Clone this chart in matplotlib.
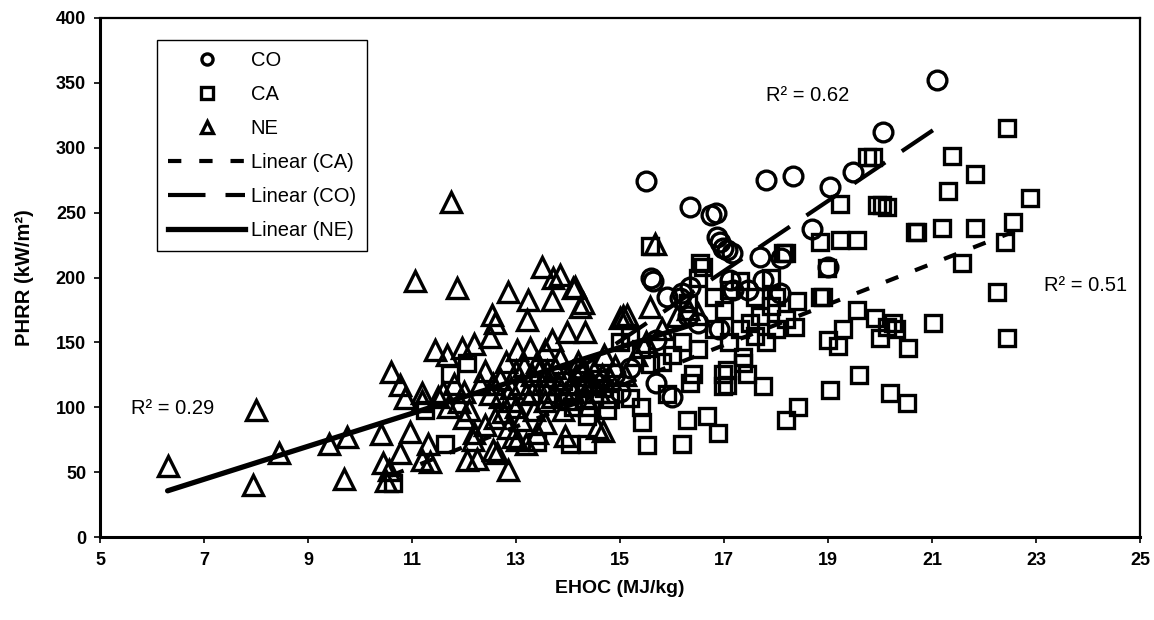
import matplotlib
matplotlib.use("Agg")
import matplotlib.pyplot as plt
from matplotlib.lines import Line2D

plt.rcParams['font.family'] = ['Liberation Sans', 'DejaVu Sans']

# ---------------- data ----------------
co_x = [14.2, 14.9, 15.2, 15.5, 15.6, 15.63, 15.7, 15.7, 16.0, 15.9, 16.15, 16.2, 16.35, 16.35,
        16.75, 16.85, 16.87, 16.93, 16.98, 17.06, 16.9, 17.15, 17.12, 17.17, 17.46, 17.7, 17.75,
        17.8, 18.1, 18.08, 18.33, 18.7, 19.0, 19.04, 19.48, 20.06, 21.1, 16.3, 16.5, 14.6, 15.0]
co_y = [130, 126, 130, 274, 200, 197, 152, 119, 108, 185, 184, 188, 193, 254,
        248, 250, 231, 227, 223, 221, 160, 219, 198, 190, 190, 216, 198,
        275, 215, 188, 278, 237, 208, 270, 281, 312, 352, 170, 165, 118, 112]

ca_x = [10.63, 11.63, 11.73, 12.06, 11.25, 13.4, 14.04, 14.37, 14.37, 14.75, 14.8, 14.1, 14.5,
        13.9, 14.3, 15.19, 15.42, 15.52, 15.58, 15.58, 16.2, 16.29, 16.67, 16.88, 16.35, 16.4,
        16.98, 16.98, 17.37, 17.37, 17.06, 17.06, 17.44, 17.75, 18.2, 18.42, 16.54, 16.6, 16.5,
        16.3, 16.8, 17.1, 17.0, 17.3, 17.5, 17.7, 17.9, 18.0, 18.2, 17.6, 17.8, 18.37, 18.85,
        18.9, 18.98, 18.13, 18.2, 18.85, 19.23, 19.56, 19.23, 19.94, 20.04, 19.75, 19.87, 19.56,
        19.9, 19.29, 19.0, 19.19, 20.0, 19.6, 19.04, 20.19, 20.52, 20.13, 20.3, 20.54, 20.25,
        21.02, 20.67, 20.72, 21.2, 21.83, 21.38, 21.3, 21.83, 22.44, 22.88, 22.56, 22.4, 21.58,
        22.25, 22.44, 20.13, 16.2, 16.5, 16.0, 15.8, 15.4, 15.2, 15.0, 14.7, 15.9, 17.1, 16.8,
        17.3, 17.6, 18.0, 17.9, 18.4, 15.4, 13.6, 14.0, 14.6]
ca_y = [42, 72, 126, 134, 98, 73, 72, 72, 93, 98, 106, 100, 110,
        120, 115, 107, 89, 71, 133, 224, 72, 90, 93, 80, 119, 126,
        126, 116, 134, 139, 117, 129, 126, 116, 90, 100, 211, 208, 200,
        180, 185, 190, 175, 160, 165, 170, 178, 160, 168, 155, 150, 162, 185,
        185, 207, 219, 219, 227, 229, 229, 257, 256, 256, 293, 293, 175,
        169, 160, 152, 147, 153, 125, 113, 111, 103, 162, 160, 146, 165,
        165, 235, 235, 238, 238, 294, 267, 280, 315, 261, 243, 227, 211,
        189, 153, 254, 150, 145, 140, 135, 145, 155, 150, 115, 110, 150, 160,
        197, 185, 185, 200, 182, 100, 110, 105, 122]

ne_x = [6.3, 7.95, 8.0, 8.45, 9.4, 9.75, 9.7, 10.4, 10.45, 10.5, 10.55, 10.6, 10.77, 10.87,
        10.96, 10.77, 11.06, 11.19, 11.19, 11.3, 11.35, 11.44, 11.67, 11.75, 11.87, 11.96,
        12.06, 12.25, 12.2, 12.17, 12.5, 12.54, 12.6, 12.56, 12.63, 12.75, 12.85, 12.85, 12.94,
        13.02, 13.02, 13.21, 13.23, 13.27, 13.5, 13.56, 13.69, 13.71, 13.69, 13.85, 13.94, 13.98,
        14.1, 14.23, 14.33, 14.56, 14.67, 15.0, 15.13, 15.58, 15.67, 14.13, 14.29, 15.06,
        11.2, 11.5, 11.7, 11.9, 12.0, 12.1, 12.3, 12.4, 12.5, 12.6, 12.7, 12.8, 12.85, 12.9,
        13.0, 13.0, 13.1, 13.2, 13.3, 13.35, 13.4, 13.5, 13.55, 13.6, 13.7, 13.8, 13.85, 13.9,
        14.0, 14.1, 14.2, 14.3, 14.4, 14.5, 14.6, 14.7, 14.8, 14.9, 15.1, 15.3, 15.5, 15.8,
        16.1, 16.3, 16.5, 12.2, 12.4, 13.2, 13.4, 12.0, 11.8, 11.6,
        12.9, 13.1, 13.3, 13.45, 13.65, 13.75, 13.95, 14.05, 14.15, 14.35, 14.45, 12.7, 13.15,
        13.55, 14.25, 14.65, 12.55]
ne_y = [55, 40, 98, 65, 72, 77, 45, 79, 57, 43, 52, 127, 117, 107,
        81, 65, 197, 111, 59, 72, 58, 144, 140, 258, 192, 146,
        59, 60, 149, 75, 154, 171, 165, 67, 65, 96, 189, 52, 77,
        144, 75, 167, 183, 146, 208, 144, 183, 200, 152, 202, 78, 158,
        192, 177, 158, 84, 82, 169, 171, 177, 226, 193, 180, 170,
        105, 108, 100, 104, 112, 98, 118, 128, 110, 92, 122, 135, 84, 115,
        128, 100, 90, 110, 125, 98, 135, 118, 88, 128, 108, 118, 138, 98,
        125, 112, 135, 118, 102, 128, 112, 140, 122, 132, 125, 140, 150, 160,
        170, 176, 172, 80, 86, 72, 80, 92, 118, 112,
        105, 118, 112, 128, 118, 130, 110, 118, 125, 108, 120, 108, 132,
        105, 128, 125, 118]

# linear trend lines (end points)
ca_fit_x = [10.6, 22.9]
ca_fit_y = [47.4, 240.5]
co_fit_x = [14.0, 21.1]
co_fit_y = [124.0, 315.7]
ne_fit_x = [6.3, 16.4]
ne_fit_y = [35.6, 163.9]

r2_labels = ["R\u00b2 = 0.29", "R\u00b2 = 0.62", "R\u00b2 = 0.51"]
r2_x = [5.6, 17.8, 23.15]
r2_y = [99, 340, 194]

x_ticks = [5, 7, 9, 11, 13, 15, 17, 19, 21, 23, 25]
y_ticks = [0, 50, 100, 150, 200, 250, 300, 350, 400]

# ---------------- figure ----------------
fig = plt.figure(figsize=(11.54, 6.2), dpi=100)
ax = fig.add_axes([100 / 1154, 83 / 620, 1040 / 1154, 519 / 620])

mk = dict(linestyle='none', markerfacecolor='none', markeredgecolor='black', markeredgewidth=2.4)
ax.plot(ne_x, ne_y, marker='^', markersize=14.5, **mk)
ax.plot(ca_x, ca_y, marker='s', markersize=12, **mk)
ax.plot(co_x, co_y, marker='o', markersize=13.5, **mk)

ax.plot(ca_fit_x, ca_fit_y, color='black', lw=3, linestyle=(0, (3.2, 4.3)), zorder=5)
ax.plot(co_fit_x, co_fit_y, color='black', lw=3, linestyle=(0, (9, 4.8)), zorder=5)
ax.plot(ne_fit_x, ne_fit_y, color='black', lw=3.8, solid_capstyle='round', zorder=5)

for s, xx, yy in zip(r2_labels, r2_x, r2_y):
    ax.text(xx, yy, s, fontsize=14.5, va='center', ha='left')

ax.set_xlim(5, 25)
ax.set_ylim(0, 400)
ax.set_xticks(x_ticks)
ax.set_yticks(y_ticks)
ax.tick_params(axis='both', direction='out', length=4, width=1.2, labelsize=13, pad=6)
for lab in ax.get_xticklabels() + ax.get_yticklabels():
    lab.set_fontweight('bold')
ax.tick_params(axis='x', pad=7)
for sp in ax.spines.values():
    sp.set_linewidth(1.6)
    sp.set_color('black')
ax.spines['bottom'].set_linewidth(2.2)
ax.spines['left'].set_linewidth(2.2)

ax.set_xlabel("EHOC (MJ/kg)", fontsize=14, fontweight='bold', labelpad=8)
ax.set_ylabel("PHRR (kW/m\u00b2)", fontsize=14.5, fontweight='bold', labelpad=16)

handles = [
    Line2D([], [], marker='o', markersize=8, **mk),
    Line2D([], [], marker='s', markersize=8, **mk),
    Line2D([], [], marker='^', markersize=8, **mk),
    Line2D([], [], color='black', lw=3, linestyle=(0, (3.2, 4.3))),
    Line2D([], [], color='black', lw=3, linestyle=(0, (9, 4.8))),
    Line2D([], [], color='black', lw=3.8),
]
labels = ["CO", "CA", "NE", "Linear (CA)", "Linear (CO)", "Linear (NE)"]
leg = ax.legend(handles, labels, loc='upper left', bbox_to_anchor=(0.055, 0.958),
                borderaxespad=0, fontsize=14.5, handlelength=3.8, handletextpad=0.3,
                labelspacing=0.75, frameon=True, fancybox=False, framealpha=1,
                edgecolor='black', borderpad=0.55, numpoints=1)
leg.get_frame().set_linewidth(1.0)

fig.savefig("out.png", dpi=100)
